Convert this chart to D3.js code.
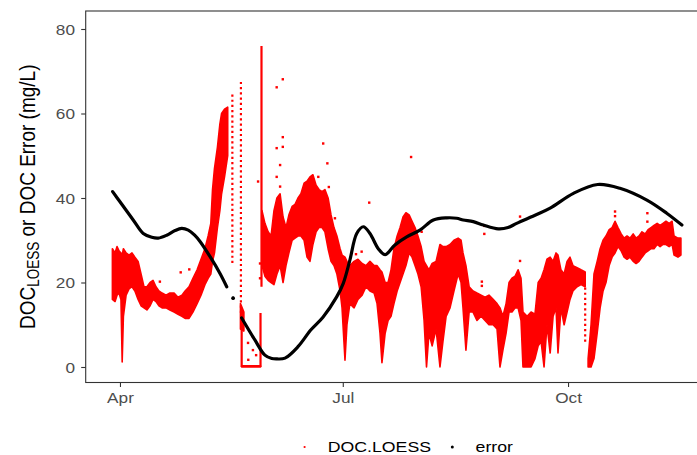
<!DOCTYPE html>
<html>
<head>
<meta charset="utf-8">
<script src="https://cdn.jsdelivr.net/npm/d3@7"></script>
<style>
  body { margin: 0; background: #fff; }
  svg { display: block; }
</style>
</head>
<body>
<div id="chart"></div>
<script>
// all days are counted from 1 April
const monthTicks = ['2019-04-01', '2019-07-01', '2019-10-01'];
const yTicks = [0, 20, 40, 60, 80];
const seriesNames = ['DOC.LOESS', 'error'];

// DOC.LOESS cloud: low / high of the readings on each day (null = gap)
const docDay = [
  -3.1, -2.0, -1.2, -0.4, 0.4, 0.9, 1.4, 2.5, 3.7, 4.9,
  6.1, 7.4, 8.6, 9.8, 11.0, 12.3, 13.5, 14.7, 15.9, 17.2,
  18.8, 20.4, 22.1, 23.7, 25.3, 26.6, 28.2, 29.8, 31.5, 33.1,
  34.7, 36.0, 37.1, 37.8, 38.6, 39.8, 40.8, 41.5, 42.7, 44.0,
  null, 49.2, 50.6, null, 49.7, 57.4, null,
  58.0, 59.2, 60.5, 61.7, 62.9, 64.1, 65.4, 66.6, 67.8, 69.0,
  70.3, 71.5, 72.7, 73.9, 75.2, 76.4, 77.6, 78.8, 80.1, 81.3,
  82.5, 83.7, 85.0, 86.2, 87.4, 88.6, 89.9, 90.7, 91.9, 92.7,
  93.9, 95.6, 97.2, 98.9, 100.5, 102.1, 103.8, 105.0, 106.2, 107.0,
  108.3, 109.5, 110.7, 111.9, 113.2, 114.4, 115.6, 116.8, 118.1, 119.3,
  120.5, 121.7, 123.0, 124.2, 125.2, 126.2, 127.5, 129.1, 130.7, 131.9,
  133.2, 134.8, 136.4, 138.1, 139.3, 140.1, 141.3, 142.6, 144.2, 145.8,
  147.5, 149.1, 150.7, 152.4, 154.0, 155.2, 156.4, 157.7, 158.9, 160.1,
  161.4, 162.6, 163.8, 164.6, 166.3, 167.9, 169.5, 170.8, 172.0, 173.2,
  174.4, 175.7, 176.9, 178.1, 178.9, 180.1, 181.4, 182.6, 183.8, 185.0,
  186.7, 188.3, 190.0, null,
  191.2, 192.4, 193.6, 194.9, 196.1, 197.3, 198.5, 199.8, 201.0, 202.2,
  203.4, 204.7, 205.9, 207.1, 208.3, 209.6, 210.8, 212.0, 213.2, 214.5,
  215.7, 216.9, 218.1, 219.4, 220.6, 221.8, 223.0, 224.3, 225.5, 226.3,
  227.9, 229.1
];
const docLo = [
  16, 15.5, 17, 17.5, 16, 1.2, 12, 17, 18.5, 19,
  18, 16, 14.5, 14, 13.5, 14.5, 16, 15.5, 14.5, 14,
  14, 13.5, 13, 12.5, 12, 11.5, 11.5, 13, 15, 17,
  19.5, 21, 22, 25, 27, 33, 37, 41, 45, 50,
  null, 9, 8.5, null, 0, 0, null,
  24, 21.5, 20.5, 20, 19.5, 22, 24, 20, 24, 27,
  30, 30.5, 31, 31, 30, 26, 25, 29, 32, 33,
  33, 32, 28, 25, 24, 22, 18, 14, 1.6, 10,
  15, 14, 16, 17, 19, 18, 17.5, 15, 8, 1,
  8, 11, 12, 15, 18, 20, 22, 24, 27, 26,
  24, 22, 19, 11, 0, 8, 5, 9, 0, 6,
  12, 14, 18, 22, 20, 14, 4, 13, 13, 11,
  12, 11, 10, 10, 9, 0, 4, 8, 13, 13,
  14, 14, 11, 0, 0, 0, 2, 5, 6, 0,
  10, 3.3, 12, 14, 3.3, 14, 10, 13, 16, 18,
  19, 19.5, 19, null,
  0, 0, 2, 8, 14, 18, 20, 24, 26, 27,
  28.5, 27.5, 26, 25.5, 26, 25, 24.5, 25, 26, 27,
  27.5, 28, 28, 29, 28.5, 29, 29, 28.5, 29, 26.5,
  26, 26.5
];
const docHi = [
  28, 27, 28.5, 27.5, 27, 26.5, 28, 27, 26.5, 27,
  26, 25, 22, 19, 19, 20, 20.5, 19, 18, 17.5,
  17, 17.5, 17.5, 16.5, 17, 18, 19, 21, 23, 25.5,
  28, 31, 34, 42, 47, 52, 57.5, 60, 61, 61.5,
  null, 15, 13, null, 0.3, 0.3, null,
  37, 34, 32, 31, 37, 40, 41, 35.5, 33, 36,
  38, 38.5, 40, 41, 43.5, 44, 45, 45.5, 43, 42,
  41.5, 42, 40, 36, 33, 31, 28, 26.5, 26, 25,
  24, 25, 25.5, 24.5, 24, 25, 24, 24, 23, 22.5,
  20, 20, 23, 28, 31, 33, 35.5, 36.5, 36, 34.5,
  33, 31, 28.5, 25, 24, 23, 24.5, 25, 29, 28.5,
  28.5, 29, 30, 30.5, 30, 27, 24, 19, 18, 17.5,
  17, 16.5, 17, 16, 15, 14, 12, 15, 20, 21,
  21.5, 23, 21, 13, 12, 13, 12.5, 20, 21, 23,
  25.5, 26, 25, 27, 26.5, 23, 22, 25, 26, 24,
  23.5, 23, 22.5, null,
  2, 10, 22, 25, 28, 30, 31, 32.5, 33, 34.5,
  33, 31.5, 30.5, 31, 30.5, 31.5, 30.5, 31, 32, 31.5,
  32.5, 33, 33.5, 34, 33.5, 34, 34.5, 34, 34.5, 31,
  30.5, 30.5
];

// DOC.LOESS vertical runs of readings: sparse (dotted) and dense (solid)
const sparseDay = [45.9, 49.4, 190.0];
const sparseLo = [24.6, 12.8, 6];
const sparseHi = [65, 68, 19];
const denseDay = [49.7, 57.4, 57.8];
const denseLo = [0, 0, 19];
const denseHi = [12.8, 12.8, 76];

// DOC.LOESS single readings away from the cloud
const outDay = [
  24.8, 28.3, 16.3, 64.0, 66.5, 66.5, 64.0, 66.5, 65.4, 64.0,
  65.4, 83.0, 84.7, 85.3, 81.0, 87.8, 57.2, 57.2, 56.4, 52.3,
  52.4, 54.3, 54.3, 55.6, 101.8, 118.9, 96.4, 98.7, 123.2, 148.8,
  148.8, 163.4, 163.4, 147.8, 147.8, 202.2, 202.2, 215.4, 215.4
];
const outVal = [
  22.4, 23.1, 20.2, 66.2, 68.1, 54.4, 51.8, 52.1, 47.8, 45,
  42.7, 52.9, 48.2, 42.6, 45, 35.2, 24.5, 21, 43.9, 5.7,
  1.7, 7.1, 4, 2.8, 38.9, 49.7, 26.7, 27.3, 32, 33.4,
  31.5, 35.6, 25.1, 20.2, 19.2, 36.8, 35.7, 36.4, 34.4
];

// error series (null = gap)
const errDay = [
  -3.0, 0.0, 5.4, 9.5, 13.0, 15.6, 19.1, 22.5, 25.2, 27.9,
  30.5, 32.7, 36.8, 40.8, 43.6, null, 46.2, null, 49.7, 55.1,
  59.2, 62.0, 64.1, 67.4, 72.7, 78.0, 82.9, 88.5, 91.2, 93.9,
  96.7, 99.4, 102.1, 105.5, 108.3, 112.3, 117.1, 122.5, 128.0, 133.5,
  137.5, 140.2, 144.3, 148.4, 154.5, 158.5, 162.0, 170.2, 175.7, 185.2,
  195.1, 204.2, 215.2, 223.3, 229.5
];
const errVal = [
  41.5, 39.1, 34.8, 31.6, 30.7, 30.5, 31.2, 32.3, 32.8, 32.4,
  31.2, 29.7, 26.1, 22.2, 19.0, null, 16.3, null, 11.6, 6.4,
  2.8, 2.0, 1.9, 2.1, 4.8, 8.8, 11.8, 16.6, 19.8, 25.3,
  31.6, 33.2, 31.6, 28.0, 26.6, 28.9, 30.8, 32.4, 34.8, 35.3,
  35.2, 34.8, 34.4, 33.6, 32.7, 33.0, 34.0, 36.1, 37.6, 41.1,
  43.2, 42.3, 39.5, 36.4, 33.6
];

const W = 697, H = 455;
const font = '"Liberation Sans", Arial, sans-serif';
const stretch = 1.18; // the reference text is widened horizontally
const red = '#ff0000';
const panel = {left: 85.7, top: 11, right: 712, bottom: 382.5};

const t0 = Date.UTC(2019, 3, 1);
const day = d => new Date(t0 + d * 864e5);

const x = d3.scaleUtc()
  .domain([day(-14.0), day(241.8)])
  .range([panel.left, panel.right]);

const y = d3.scaleLinear()
  .domain([-3.67, 84.26])
  .range([panel.bottom, panel.top]);

const svg = d3.select('#chart').append('svg')
  .attr('width', W)
  .attr('height', H);

svg.append('rect').attr('width', W).attr('height', H).attr('fill', '#fff');

svg.append('defs').append('clipPath').attr('id', 'clip')
  .append('rect')
  .attr('x', panel.left).attr('y', panel.top)
  .attr('width', panel.right - panel.left)
  .attr('height', panel.bottom - panel.top);

const plot = svg.append('g').attr('clip-path', 'url(#clip)');

// DOC.LOESS cloud
const cloud = docDay.map((d, i) => ({d, lo: docLo[i], hi: docHi[i]}));
const cloudArea = d3.area()
  .defined(r => r.d != null)
  .x(r => x(day(r.d)))
  .y0(r => y(r.lo))
  .y1(r => y(r.hi));

plot.append('path')
  .datum(cloud)
  .attr('d', cloudArea)
  .attr('fill', red)
  .attr('stroke', red)
  .attr('stroke-width', 1.6)
  .attr('stroke-linejoin', 'round');

plot.selectAll('line.sparse')
  .data(sparseDay)
  .enter().append('line')
  .attr('class', 'sparse')
  .attr('x1', d => x(day(d))).attr('x2', d => x(day(d)))
  .attr('y1', (d, i) => y(sparseLo[i])).attr('y2', (d, i) => y(sparseHi[i]))
  .attr('stroke', red)
  .attr('stroke-width', 2.2)
  .attr('stroke-dasharray', '2.2 3');

plot.selectAll('line.dense')
  .data(denseDay)
  .enter().append('line')
  .attr('class', 'dense')
  .attr('x1', d => x(day(d))).attr('x2', d => x(day(d)))
  .attr('y1', (d, i) => y(denseLo[i])).attr('y2', (d, i) => y(denseHi[i]))
  .attr('stroke', red)
  .attr('stroke-width', 2.2);

plot.selectAll('rect.out')
  .data(outDay)
  .enter().append('rect')
  .attr('class', 'out')
  .attr('x', d => x(day(d)) - 1.2)
  .attr('y', (d, i) => y(outVal[i]) - 1.2)
  .attr('width', 2.4).attr('height', 2.4)
  .attr('fill', red);

// error series
const err = errDay.map((d, i) => ({d, v: errVal[i]}));
const errLine = d3.line()
  .defined(p => p.v != null)
  .x(p => x(day(p.d)))
  .y(p => y(p.v))
  .curve(d3.curveCatmullRom.alpha(0.5));

plot.append('path')
  .datum(err)
  .attr('d', errLine)
  .attr('fill', 'none')
  .attr('stroke', '#000')
  .attr('stroke-width', 3.2)
  .attr('stroke-linecap', 'round');

const lone = err.filter((p, i) => p.v != null &&
  (i === 0 || err[i - 1].v == null) && (i === err.length - 1 || err[i + 1].v == null));
plot.selectAll('circle.lone')
  .data(lone)
  .enter().append('circle')
  .attr('class', 'lone')
  .attr('cx', p => x(day(p.d)))
  .attr('cy', p => y(p.v))
  .attr('r', 1.8)
  .attr('fill', '#000');

// panel border
svg.append('rect')
  .attr('x', panel.left).attr('y', panel.top)
  .attr('width', panel.right - panel.left)
  .attr('height', panel.bottom - panel.top)
  .attr('fill', 'none')
  .attr('stroke', '#333')
  .attr('stroke-width', 1.1);

// axes
const xAxis = d3.axisBottom(x)
  .tickValues(monthTicks.map(s => new Date(s + 'T00:00:00Z')))
  .tickFormat(d3.utcFormat('%b'))
  .tickSize(4.5);

svg.append('g')
  .attr('transform', `translate(0,${panel.bottom})`)
  .call(xAxis)
  .attr('font-family', font)
  .attr('font-size', 14.6)
  .call(g => g.select('.domain').remove())
  .call(g => g.selectAll('line').attr('stroke', '#333').attr('stroke-width', 1.1))
  .call(g => g.selectAll('text')
    .attr('fill', '#4d4d4d')
    .attr('y', 21).attr('dy', 0)
    .attr('transform', `scale(${stretch},1)`));

const yAxis = d3.axisLeft(y)
  .tickValues(yTicks)
  .tickSize(4.5);

svg.append('g')
  .attr('transform', `translate(${panel.left},0)`)
  .call(yAxis)
  .attr('font-family', font)
  .attr('font-size', 14.6)
  .call(g => g.select('.domain').remove())
  .call(g => g.selectAll('line').attr('stroke', '#333').attr('stroke-width', 1.1))
  .call(g => g.selectAll('text')
    .attr('fill', '#4d4d4d')
    .attr('x', -10.7 / stretch).attr('dy', '0.36em')
    .attr('transform', `scale(${stretch},1)`));

// y title
const title = svg.append('text')
  .attr('transform', `translate(35,${(panel.top + panel.bottom) / 2}) scale(${stretch},1) rotate(-90)`)
  .attr('text-anchor', 'middle')
  .attr('font-family', font)
  .attr('font-size', 19)
  .attr('fill', '#000');
title.append('tspan').text('DOC');
title.append('tspan').attr('font-size', 13.5).attr('dy', 3).text('LOESS');
title.append('tspan').attr('dy', -3).text(' or DOC Error (mg/L)');

// legend
const legendX = [304.6, 452.3];
const legendTextX = [327.8, 475.6];
const legendCol = [red, '#000'];
const legendR = [1.1, 1.5];
const legend = svg.append('g');
seriesNames.forEach((name, i) => {
  legend.append('circle')
    .attr('cx', legendX[i]).attr('cy', 447)
    .attr('r', legendR[i])
    .attr('fill', legendCol[i]);
  legend.append('text')
    .attr('transform', `translate(${legendTextX[i]},452.4) scale(${stretch},1)`)
    .attr('font-family', font)
    .attr('font-size', 15)
    .attr('fill', '#000')
    .text(name);
});
</script>
</body>
</html>
